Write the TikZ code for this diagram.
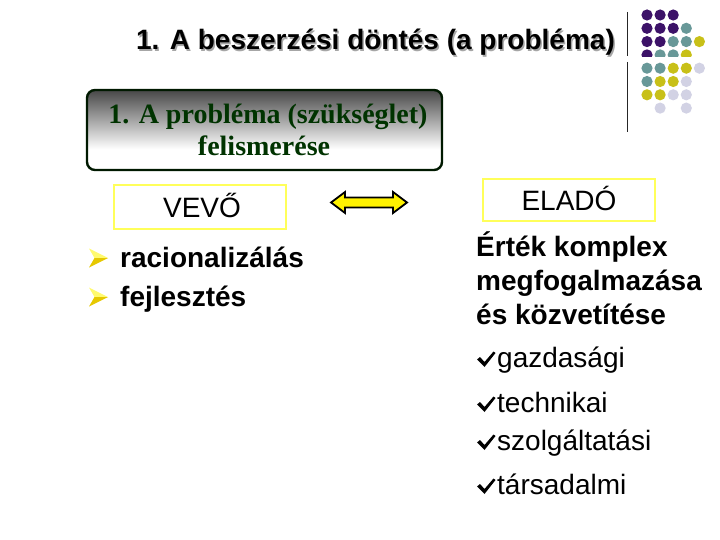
\documentclass[tikz,border=0pt]{standalone}
\usepackage{fontspec}
\setmainfont{Liberation Sans}
\newfontfamily\serifbox{Liberation Serif}
\definecolor{dpurple}{RGB}{60,18,104}
\definecolor{dteal}{RGB}{104,152,152}
\definecolor{dyellow}{RGB}{200,192,24}
\definecolor{dlav}{RGB}{210,210,228}
\definecolor{boxgreen}{RGB}{0,51,0}
\definecolor{ylborder}{RGB}{255,255,90}
\definecolor{bullight}{RGB}{255,250,110}
\definecolor{buldark}{RGB}{230,200,0}
\pgfdeclareverticalshading{probshade}{100bp}{color(0bp)=(white); color(38bp)=(white); color(75bp)=(black!72); color(100bp)=(black!72)}
\tikzset{
  big/.style={inner sep=0, font=\fontsize{28}{30}\selectfont},
  bigb/.style={inner sep=0, font=\bfseries\fontsize{28}{30}\selectfont},
  serb/.style={inner sep=0, font=\serifbox\bfseries\fontsize{28}{30}\selectfont, text=boxgreen},
  ybox/.style={draw=ylborder, line width=2pt, inner sep=0},
  dot/.style={radius=5.6},
}
\begin{document}
\begin{tikzpicture}[x=1pt,y=-1pt]
\useasboundingbox (0,0) rectangle (720,540);
% decoration: dots and line
\begin{scope}
  \clip (630,0) rectangle (720,56.8) (630,62) rectangle (720,540);
  \foreach \c/\r/\col in {0/0/dpurple,1/0/dpurple,2/0/dpurple,
    0/1/dpurple,1/1/dpurple,2/1/dpurple,3/1/dteal,
    0/2/dpurple,1/2/dpurple,2/2/dteal,3/2/dteal,4/2/dyellow,
    0/3/dpurple,1/3/dteal,2/3/dteal,3/3/dyellow,
    0/4/dteal,1/4/dteal,2/4/dyellow,3/4/dyellow,4/4/dlav,
    0/5/dteal,1/5/dyellow,2/5/dyellow,3/5/dlav,
    0/6/dyellow,1/6/dyellow,2/6/dlav,3/6/dlav,
    1/7/dlav,3/7/dlav}
    \fill[\col] ({647+13.1*\c},{15+13.3*\r}) circle[dot];
\end{scope}
\draw[black!85, line width=0.9pt] (627,12) -- (627,56.5);
\draw[black!85, line width=0.9pt] (627,62) -- (627,132);
% title
\node[bigb, anchor=base, text=black!35] (titleshadow) at (377,51.5) {1. A beszerzési döntés (a probléma)};
\node[bigb, anchor=base] (title) at (375.5,50) {1. A beszerzési döntés (a probléma)};
% problem box
\node[draw=black!90!green, line width=2.4pt, rounded corners=8pt, shading=probshade,
      minimum width=355pt, minimum height=80pt, inner sep=0] (pbox) at (264.5,130) {};
\node[serb, anchor=base] (p1) at (268,124) {1. A probléma (szükséglet)};
\node[serb, anchor=base] (p2) at (264,156) {felismerése};
% buyer / seller
\node[ybox, minimum width=172pt, minimum height=44pt] (vevobox) at (200,207) {};
\node[big, anchor=base] (vevo) at (202,218) {VEVŐ};
\node[ybox, minimum width=172pt, minimum height=42pt] (eladobox) at (569,200) {};
\node[big, anchor=base] (elado) at (569,211) {ELADÓ};
% double arrow
\coordinate (dal) at (331,202.5);
\draw[line width=1.8pt, fill=yellow, line join=miter]
  (dal) -- ++(14,-10.5) -- ++(0,5.5) -- ++(48,0) -- ++(0,-5.5) -- ++(14,10.5)
  -- ++(-14,10.5) -- ++(0,-5.5) -- ++(-48,0) -- ++(0,5.5) -- cycle;
% left bullets
\foreach \yy/\nm/\tx in {258/r1/racionalizálás, 297/r2/fejlesztés}{
  \fill[bullight] (108,\yy) -- (89,{\yy-9.5}) -- (94.5,\yy) -- cycle;
  \fill[buldark] (108,\yy) -- (94.5,\yy) -- (89,{\yy+9.5}) -- cycle;
  \node[bigb, anchor=base west] (\nm) at (120,{\yy+9}) {\tx};
}
% right text
\node[bigb, anchor=base west] (e1) at (476,256) {Érték komplex};
\node[bigb, anchor=base west] (e2) at (476,290) {megfogalmazása};
\node[bigb, anchor=base west] (e3) at (476,324) {és közvetítése};
% check list
\foreach \b/\nm/\tx in {367/c1/gazdasági, 412/c2/technikai, 450/c3/szolgáltatási, 494/c4/társadalmi}{
  \fill[black] (477,{\b-7.5}) -- (480,{\b-10}) -- (484.5,{\b-5}) -- (493.5,{\b-15.5}) -- (495.5,{\b-14}) -- (484.5,{\b}) -- cycle;
  \node[big, anchor=base west] (\nm) at (497,\b) {\tx};
}
\end{tikzpicture}
\end{document}
